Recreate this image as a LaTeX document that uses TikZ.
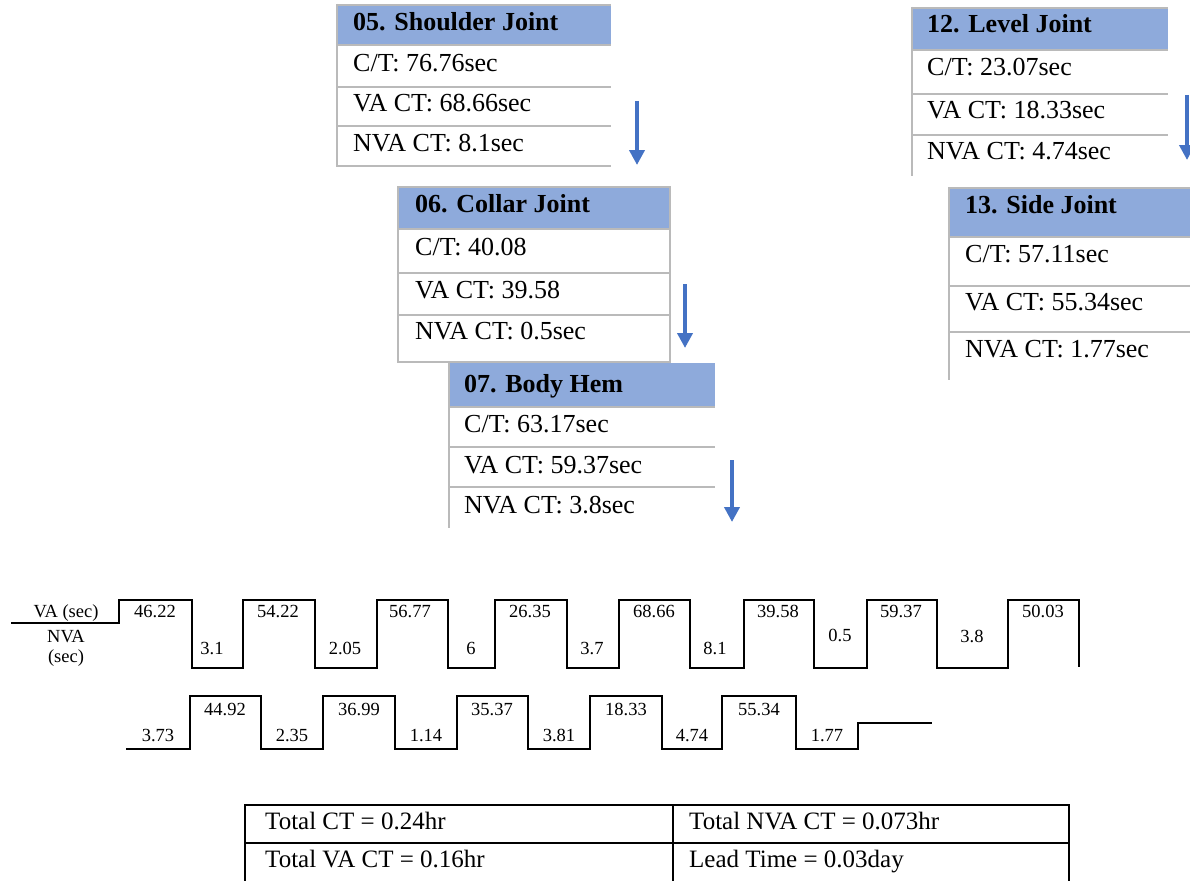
\documentclass[tikz,border=0pt]{standalone}
\usepackage{fontspec}
\setmainfont{Liberation Serif}
\usetikzlibrary{arrows.meta}
\definecolor{hdr}{HTML}{8EAADB}
\definecolor{bord}{HTML}{BABABA}
\definecolor{arr}{HTML}{4472C4}
\begin{document}
\begin{tikzpicture}[x=1pt,y=-1pt,
  boxtxt/.style={anchor=base west,inner sep=0pt,font=\fontsize{26}{26}\selectfont},
  hdrtxt/.style={anchor=base west,inner sep=0pt,font=\fontsize{26}{26}\selectfont\bfseries},
  gline/.style={draw=bord,line width=2pt},
  flow/.style={draw=arr,line width=4pt,-{Triangle[width=15pt,length=15pt]}},
  lbl/.style={anchor=base,inner sep=0pt,font=\fontsize{18.5}{18.5}\selectfont},
  wave/.style={line width=2.2pt,line join=miter},
  wavethin/.style={line width=1.4pt,line join=miter},
  tbl/.style={line width=1.8pt},
  tbltxt/.style={anchor=base west,inner sep=0pt,font=\fontsize{25}{25}\selectfont}]
\useasboundingbox (0,0) rectangle (1190,880);
\clip (0,0) rectangle (1190,880);
\fill[white] (0,0) rectangle (1190,880);

% ---------- Box 05 ----------
\fill[hdr] (337,5) rectangle (611,45);
\draw[gline] (337,5) -- (611,5);
\draw[gline] (337,45) -- (611,45);
\draw[gline] (337,87) -- (611,87);
\draw[gline] (337,126) -- (611,126);
\draw[gline] (337,166) -- (611,166);
\draw[gline] (337,4) -- (337,167);
\node[hdrtxt] (h05) at (353,31) {05. Shoulder Joint};
\node[boxtxt] (ct05) at (353,72) {C/T: 76.76sec};
\node[boxtxt] (va05) at (353,111) {VA CT: 68.66sec};
\node[boxtxt] (nva05) at (353,151) {NVA CT: 8.1sec};

% ---------- Box 06 ----------
\fill[hdr] (398,187) rectangle (670,229);
\draw[gline] (398,187) -- (670,187);
\draw[gline] (398,229) -- (670,229);
\draw[gline] (398,273) -- (670,273);
\draw[gline] (398,315) -- (670,315);
\draw[gline] (397,362) -- (671,362);
\draw[gline] (398,186) -- (398,363);
\draw[gline] (670,186) -- (670,363);
\node[hdrtxt] (h06) at (415,212) {06. Collar Joint};
\node[boxtxt] (ct06) at (415,255) {C/T: 40.08};
\node[boxtxt] (va06) at (415,298) {VA CT: 39.58};
\node[boxtxt] (nva06) at (415,339) {NVA CT: 0.5sec};

% ---------- Box 07 ----------
\fill[hdr] (449,363) rectangle (715,407);
\draw[gline] (449,407) -- (715,407);
\draw[gline] (449,447) -- (715,447);
\draw[gline] (449,487) -- (715,487);
\draw[gline] (449,362) -- (449,528);
\node[hdrtxt] (h07) at (464,392) {07. Body Hem};
\node[boxtxt] (ct07) at (464,432) {C/T: 63.17sec};
\node[boxtxt] (va07) at (464,473) {VA CT: 59.37sec};
\node[boxtxt] (nva07) at (464,513) {NVA CT: 3.8sec};

% ---------- Box 12 ----------
\fill[hdr] (912,8) rectangle (1168,50);
\draw[gline] (912,8) -- (1168,8);
\draw[gline] (912,50) -- (1168,50);
\draw[gline] (912,94) -- (1168,94);
\draw[gline] (912,135) -- (1168,135);
\draw[gline] (912,7) -- (912,176);
\node[hdrtxt] (h12) at (927,33) {12. Level Joint};
\node[boxtxt] (ct12) at (927,76) {C/T: 23.07sec};
\node[boxtxt] (va12) at (927,118) {VA CT: 18.33sec};
\node[boxtxt] (nva12) at (927,159) {NVA CT: 4.74sec};

% ---------- Box 13 ----------
\fill[hdr] (949,188) rectangle (1190,237);
\draw[gline] (949,188) -- (1190,188);
\draw[gline] (949,237) -- (1190,237);
\draw[gline] (949,286) -- (1190,286);
\draw[gline] (949,332) -- (1190,332);
\draw[gline] (949,187) -- (949,380);
\node[hdrtxt] (h13) at (965,213) {13. Side Joint};
\node[boxtxt] (ct13) at (965,262) {C/T: 57.11sec};
\node[boxtxt] (va13) at (965,310) {VA CT: 55.34sec};
\node[boxtxt] (nva13) at (965,357) {NVA CT: 1.77sec};

% ---------- flow arrows ----------
\coordinate (a1s) at (637,101); \coordinate (a1e) at (637,165);
\coordinate (a2s) at (685,284); \coordinate (a2e) at (685,348);
\coordinate (a3s) at (732,460); \coordinate (a3e) at (732,522);
\coordinate (a4s) at (1187,95); \coordinate (a4e) at (1187,160);
\draw[flow] (a1s) -- (a1e);
\draw[flow] (a2s) -- (a2e);
\draw[flow] (a3s) -- (a3e);
\draw[flow] (a4s) -- (a4e);

% ---------- timeline row 1 ----------
\draw[wave] (11,623) -- (119,623) -- (119,600) -- (192,600) -- (192,668) -- (243,668)
  -- (243,600) -- (315,600) -- (315,668) -- (377,668) -- (377,600) -- (448,600)
  -- (448,668) -- (495,668) -- (495,600) -- (567,600) -- (567,668) -- (619,668)
  -- (619,600) -- (690,600) -- (690,668) -- (744,668) -- (744,600) -- (814,600)
  -- (814,668) -- (867,668) -- (867,600) -- (937,600) -- (937,668) -- (1008,668)
  -- (1008,600) -- (1079,600) -- (1079,667);
\node[lbl] (vahdr) at (66,617) {VA (sec)};
\node[lbl] (nvahdr) at (66,642) {NVA};
\node[lbl] (nvasec) at (66,662) {(sec)};
\node[lbl] (t1) at (155,617) {46.22};
\node[lbl] (t2) at (278,617) {54.22};
\node[lbl] (t3) at (410,617) {56.77};
\node[lbl] (t4) at (530,617) {26.35};
\node[lbl] (t5) at (654,617) {68.66};
\node[lbl] (t6) at (778,617) {39.58};
\node[lbl] (t7) at (901,617) {59.37};
\node[lbl] (t8) at (1043,617) {50.03};
\node[lbl] (b1) at (212,654) {3.1};
\node[lbl] (b2) at (345,654) {2.05};
\node[lbl] (b3) at (471,654) {6};
\node[lbl] (b4) at (592,654) {3.7};
\node[lbl] (b5) at (715,654) {8.1};
\node[lbl] (b6) at (840,641) {0.5};
\node[lbl] (b7) at (972,642) {3.8};

% ---------- timeline row 2 ----------
\draw[wavethin] (126,749) -- (190,749) -- (190,696) -- (261,696) -- (261,749) -- (323,749)
  -- (323,696) -- (395,696) -- (395,749) -- (457,749) -- (457,696) -- (528,696)
  -- (528,749) -- (590,749) -- (590,696) -- (662,696) -- (662,749) -- (722,749)
  -- (722,696) -- (796,696) -- (796,749) -- (858,749) -- (858,723) -- (932,723);
\node[lbl] (u1) at (225,715) {44.92};
\node[lbl] (u2) at (359,715) {36.99};
\node[lbl] (u3) at (492,715) {35.37};
\node[lbl] (u4) at (626,715) {18.33};
\node[lbl] (u5) at (759,715) {55.34};
\node[lbl] (d1) at (158,741) {3.73};
\node[lbl] (d2) at (292,741) {2.35};
\node[lbl] (d3) at (426,741) {1.14};
\node[lbl] (d4) at (559,741) {3.81};
\node[lbl] (d5) at (692,741) {4.74};
\node[lbl] (d6) at (827,741) {1.77};

% ---------- summary table ----------
\draw[tbl] (245,805) rectangle (1069,884);
\draw[tbl] (245,843) -- (1069,843);
\draw[tbl] (673,805) -- (673,884);
\node[tbltxt] (tct) at (265,829) {Total CT = 0.24hr};
\node[tbltxt] (tnva) at (689,829) {Total NVA CT = 0.073hr};
\node[tbltxt] (tva) at (265,867) {Total VA CT = 0.16hr};
\node[tbltxt] (tlt) at (689,867) {Lead Time = 0.03day};
\end{tikzpicture}
\end{document}
